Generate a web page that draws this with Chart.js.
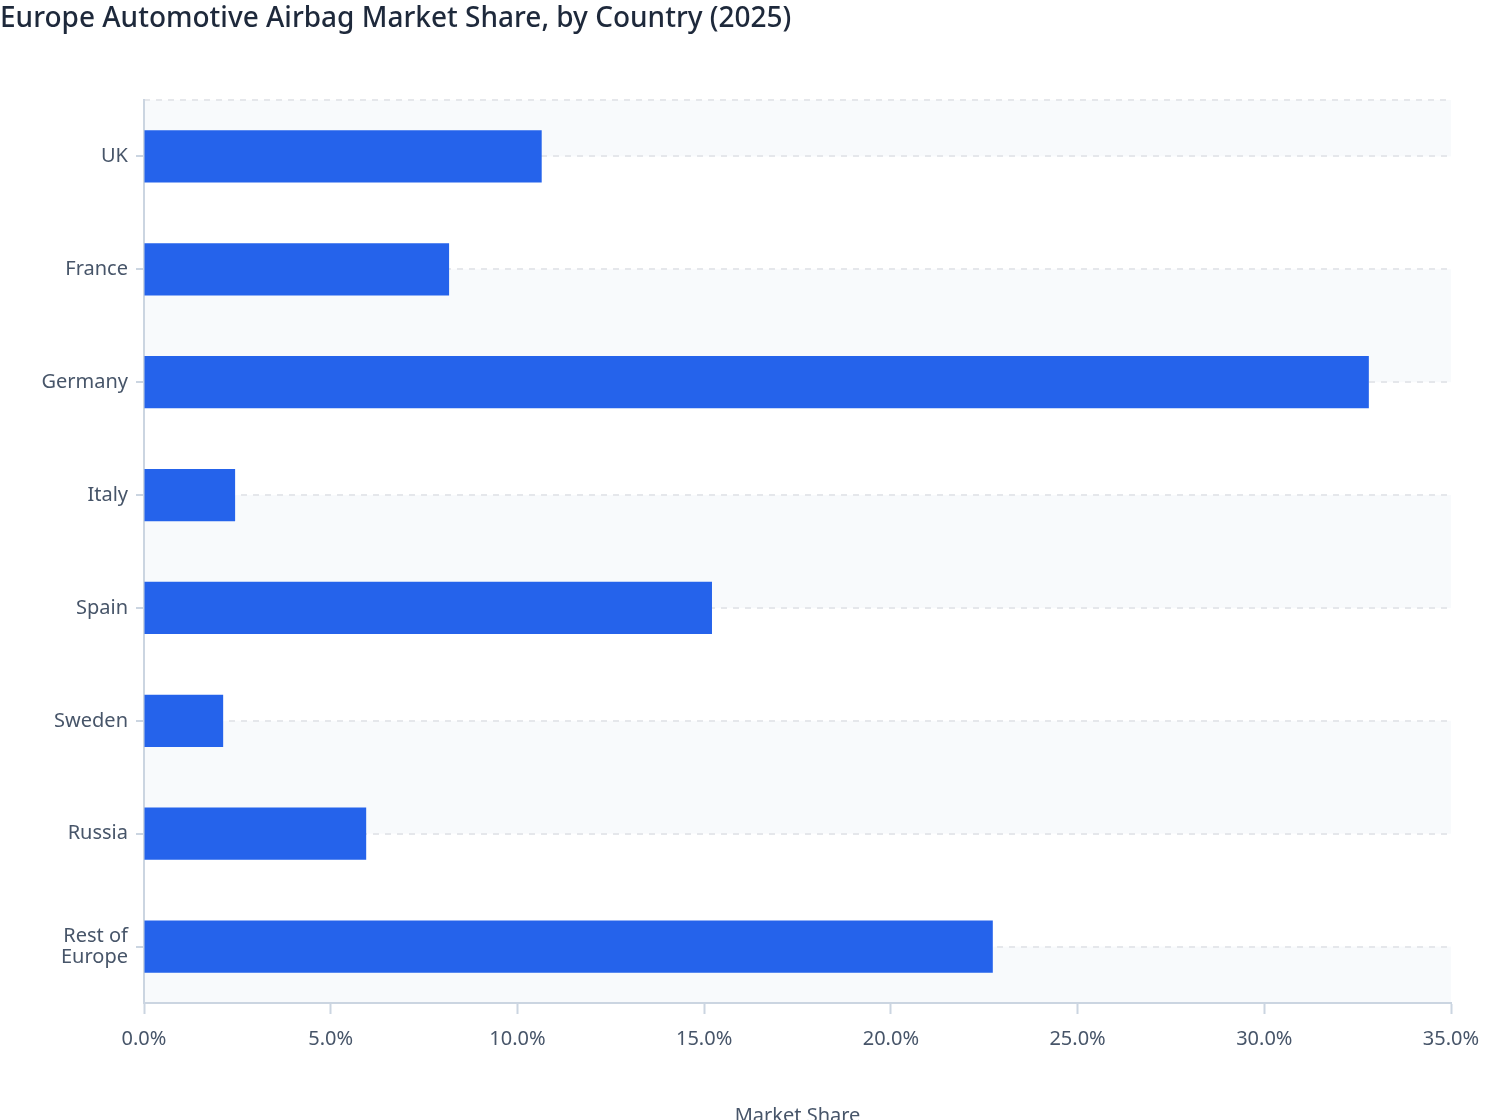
<!DOCTYPE html>
<html>
<head>
<meta charset="utf-8">
<script src="https://cdn.jsdelivr.net/npm/chart.js@4.4.1/dist/chart.umd.min.js"></script>
<style>
  html, body { margin: 0; padding: 0; background: #ffffff; }
  #wrap { position: relative; width: 1508px; height: 1128px; }
</style>
</head>
<body>
<div id="wrap"><canvas id="c"></canvas></div>
<script>
const categories = ["UK", "France", "Germany", "Italy", "Spain", "Sweden", "Russia", ["Rest of", "Europe"]];
const shares = [10.65, 8.17, 32.8, 2.44, 15.21, 2.12, 5.95, 22.73];
const xTickMax = 35;
const xTickStep = 5;
const chartTitle = "Europe Automotive Airbag Market Share, by Country (2025)";
const xAxisTitle = "Market Share";

const FONT = "'Noto Sans', 'Open Sans', sans-serif";

const bandPlugin = {
  id: 'bands',
  beforeDraw(chart) {
    const { ctx, chartArea, scales } = chart;
    const y = scales.y;
    const bounds = [chartArea.top];
    for (let i = 0; i < categories.length; i++) bounds.push(y.getPixelForTick(i));
    bounds.push(chartArea.bottom);
    ctx.save();
    ctx.fillStyle = '#f8fafc';
    for (let k = 0; k < bounds.length - 1; k++) {
      if (k % 2 === 0) {
        ctx.fillRect(chartArea.left, bounds[k], chartArea.right - chartArea.left, bounds[k + 1] - bounds[k]);
      }
    }
    ctx.strokeStyle = '#e5e7eb';
    ctx.lineWidth = 2;
    ctx.setLineDash([6, 6]);
    ctx.beginPath();
    ctx.moveTo(chartArea.left, chartArea.top);
    ctx.lineTo(chartArea.right, chartArea.top);
    ctx.stroke();
    ctx.restore();
  }
};

new Chart(document.getElementById('c'), {
  type: 'bar',
  data: {
    labels: categories,
    datasets: [{
      label: 'Market Share',
      data: shares,
      backgroundColor: '#2563eb',
      borderWidth: 0,
      barPercentage: 0.58,
      categoryPercentage: 0.8
    }]
  },
  options: {
    indexAxis: 'y',
    responsive: true,
    maintainAspectRatio: false,
    animation: false,
    devicePixelRatio: 1,
    layout: { padding: { left: 0, right: 57, top: 0, bottom: 0 } },
    plugins: {
      legend: { display: false },
      tooltip: { enabled: false },
      title: {
        display: true,
        text: chartTitle,
        align: 'start',
        color: '#1e293b',
        font: { family: FONT, size: 28, weight: '500', lineHeight: 1.2 },
        padding: { top: 2, bottom: 64.4 }
      }
    },
    scales: {
      x: {
        type: 'linear',
        min: 0,
        max: xTickMax,
        ticks: {
          stepSize: xTickStep,
          color: '#475569',
          font: { family: FONT, size: 20, lineHeight: 1.2 },
          padding: 13,
          callback: (v) => Number(v).toFixed(1) + '%'
        },
        grid: {
          drawOnChartArea: false,
          drawTicks: true,
          tickLength: 11,
          tickColor: '#cbd5e1',
          tickWidth: 2,
          color: '#cbd5e1'
        },
        border: { display: true, color: '#cbd5e1', width: 2 },
        title: {
          display: true,
          text: xAxisTitle,
          color: '#475569',
          font: { family: FONT, size: 20, lineHeight: 1.2 },
          padding: { top: 40, bottom: 0 }
        }
      },
      y: {
        type: 'category',
        afterFit: (scale) => { scale.width = 144; },
        ticks: {
          color: '#475569',
          font: { family: FONT, size: 20, lineHeight: 1.05 },
          padding: 8
        },
        grid: {
          offset: false,
          color: '#e5e7eb',
          lineWidth: 2,
          drawTicks: true,
          tickLength: 8,
          tickColor: '#cbd5e1',
          tickWidth: 2,
          tickBorderDash: []
        },
        border: { display: true, color: '#cbd5e1', width: 2, dash: [6, 6] }
      }
    }
  },
  plugins: [bandPlugin]
});
</script>
</body>
</html>
